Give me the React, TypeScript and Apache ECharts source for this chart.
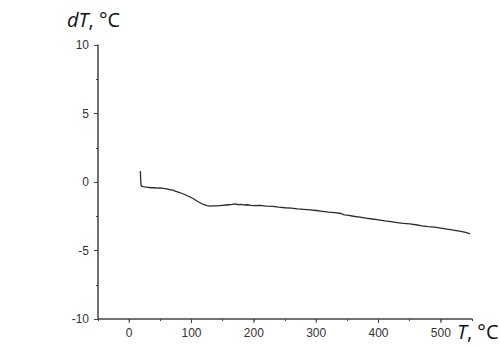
import React, { useEffect, useRef } from "react";
import * as echarts from "echarts";

const temperature = [
  18, 18.3, 18.6, 19, 20, 22, 25, 28, 32, 36, 40, 45, 50, 55, 60, 65, 70, 75, 80, 85,
  90, 95, 100, 105, 110, 115, 120, 125, 130, 135, 140, 145, 150, 155, 160, 165, 170, 175,
  180, 185, 190, 195, 200, 210, 220, 230, 240, 250, 260, 270, 280, 290, 300, 310, 320,
  330, 340, 345, 350, 360, 370, 380, 390, 400, 410, 420, 430, 440, 450, 460, 470, 480,
  490, 500, 510, 520, 530, 540, 547,
];
const deltaT = [
  0.8, 0.4, 0.0, -0.2, -0.3, -0.33, -0.36, -0.38, -0.4, -0.42, -0.42, -0.44, -0.43, -0.47,
  -0.5, -0.55, -0.6, -0.68, -0.76, -0.84, -0.93, -1.04, -1.15, -1.28, -1.42, -1.55, -1.66,
  -1.72, -1.76, -1.74, -1.75, -1.72, -1.7, -1.68, -1.66, -1.64, -1.6, -1.66, -1.64, -1.68,
  -1.66, -1.7, -1.72, -1.7, -1.76, -1.78, -1.84, -1.88, -1.9, -1.96, -2.0, -2.04, -2.08,
  -2.14, -2.2, -2.24, -2.3, -2.4, -2.42, -2.5, -2.56, -2.64, -2.7, -2.76, -2.84, -2.9,
  -2.96, -3.02, -3.06, -3.12, -3.2, -3.26, -3.3, -3.36, -3.44, -3.52, -3.58, -3.68, -3.78,
];
const xMajorTicks = [0, 100, 200, 300, 400, 500];

export default function App() {
  const ref = useRef<HTMLDivElement>(null);
  useEffect(() => {
    if (!ref.current) return;
    const chart = echarts.init(ref.current, undefined, { renderer: "svg" });
    const data = temperature.map((t, i) => [t, deltaT[i]]);
    const axisColor = "#444";
    chart.setOption({
      animation: false,
      backgroundColor: "#fff",
      grid: { left: 98, right: 28, top: 45, bottom: 27 },
      xAxis: {
        type: "value",
        min: -50,
        max: 550,
        interval: 50,
        splitLine: { show: false },
        axisLine: { onZero: false, lineStyle: { color: axisColor, width: 1.5 } },
        axisTick: { show: true, length: 2, lineStyle: { color: axisColor, width: 1 } },
        axisLabel: {
          margin: 8,
          color: "#333",
          fontSize: 12,
          fontFamily: "Liberation Sans",
          formatter: (v: number) => (v >= 0 && v <= 500 && v % 100 === 0 ? String(v) : ""),
        },
      },
      yAxis: {
        type: "value",
        min: -10,
        max: 10,
        interval: 5,
        splitLine: { show: false },
        axisLine: { onZero: false, lineStyle: { color: axisColor, width: 1.5 } },
        axisTick: { show: true, length: 4, lineStyle: { color: axisColor, width: 1 } },
        minorTick: { show: true, splitNumber: 2, length: 2, lineStyle: { color: axisColor } },
        axisLabel: {
          margin: 9,
          color: "#333",
          fontSize: 12,
          fontFamily: "Liberation Sans",
        },
      },
      series: [
        {
          type: "line",
          data,
          showSymbol: false,
          symbol: "none",
          lineStyle: { color: "#2b2b2b", width: 1.3 },
        },
      ],
    });
    const yBase = chart.convertToPixel({ yAxisIndex: 0 }, -10) as number;
    const tickLines = xMajorTicks.map((v) => {
      const x = chart.convertToPixel({ xAxisIndex: 0 }, v) as number;
      return {
        type: "line",
        shape: { x1: x, y1: yBase, x2: x, y2: yBase + 4 },
        style: { stroke: axisColor, lineWidth: 1 },
      };
    });
    chart.setOption({
      graphic: [
        ...tickLines,
        {
          type: "text",
          left: 67,
          top: 9,
          style: {
            text: "{i|dT}{n|, °C}",
            rich: {
              i: { fontStyle: "italic", fontSize: 20, fontFamily: "Open Sans", fill: "#111" },
              n: { fontSize: 20, fontFamily: "Open Sans", fill: "#111" },
            },
          },
        },
        {
          type: "text",
          left: 457,
          top: 321,
          style: {
            text: "{i|T}{n|, °C}",
            rich: {
              i: { fontStyle: "italic", fontSize: 20, fontFamily: "Open Sans", fill: "#111" },
              n: { fontSize: 20, fontFamily: "Open Sans", fill: "#111" },
            },
          },
        },
      ],
    });
    return () => chart.dispose();
  }, []);
  return <div ref={ref} style={{ width: 500, height: 346, position: "absolute", left: 0, top: 0 }} />;
}
